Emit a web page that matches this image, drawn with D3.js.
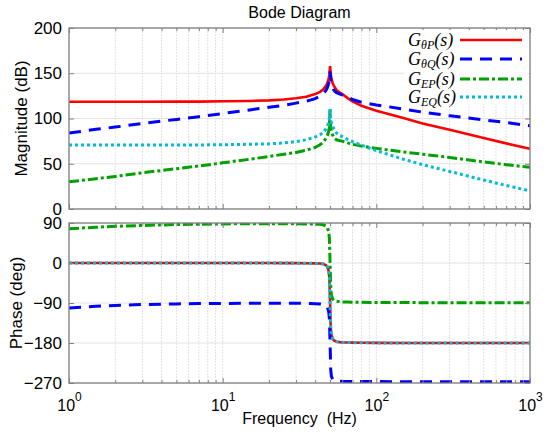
<!DOCTYPE html>
<html>
<head>
<meta charset="utf-8">
<script src="https://cdn.jsdelivr.net/npm/d3@7"></script>
<style>
  body { margin: 0; background: #fff; }
  svg { display: block; }
  text { fill: #000; }
</style>
</head>
<body>
<div id="chart"></div>
<script>
// frequency points (Hz), shared by all traces
const freq = [1, 1.5, 2, 3, 5, 7, 10, 15, 20, 25, 30, 35, 40, 43, 45, 47, 48, 49, 49.5, 50,
  50.5, 51, 52, 53, 55, 58, 60, 65, 70, 80, 100, 150, 200, 300, 500, 700, 1000];

// magnitude (dB)
const magThetaP = [118.5, 118.5, 118.5, 118.5, 118.6, 118.7, 119, 119.4, 120, 121, 122.3, 124, 127, 129.5, 132, 136, 139, 144, 149, 158,
  149, 144, 139, 136, 131.5, 128.5, 127, 122.5, 119, 114, 108.5, 100.5, 94.5, 87.5, 78.5, 72.5, 66.5];
const magThetaQ = [84, 88, 90.5, 94.5, 99, 102, 105.5, 109.5, 112.5, 114.5, 117, 119, 122, 124.5, 127, 131, 134, 139, 144, 152,
  144, 139, 134, 131, 128.5, 127, 126, 123.5, 121, 118, 115, 110.5, 107, 103, 98.5, 95.5, 92];
const magEP = [30, 33.5, 36, 40, 44.5, 47.5, 51, 55, 58, 60.5, 62.5, 65, 68, 71, 73.5, 78, 81, 86, 91, 110,
  91, 86, 81.5, 78.5, 76.5, 75.5, 75, 73, 71.5, 69.5, 67, 63, 60.5, 57, 52, 49, 46];
const magEQ = [70.7, 70.7, 70.7, 70.7, 70.7, 70.8, 71, 71.5, 72, 73, 74.5, 76.5, 79.5, 82, 84.5, 88.5, 91.5, 96, 100, 111,
  100, 96, 91.5, 88, 84, 81, 80, 77, 74.5, 70.5, 64.5, 55, 49, 41.5, 32, 26, 20];

// phase (deg)
const phaseThetaP = [0, 0, 0, 0, 0, 0, 0, 0, 0, -0.2, -0.3, -0.5, -0.8, -1.2, -2, -5, -8, -18, -35, -90,
  -145, -162, -171, -174, -177, -178, -178.5, -179, -179.2, -179.5, -179.7, -180, -180, -180, -180, -180, -180];
const phaseThetaQ = [-101, -97.5, -95.5, -93.5, -92, -91.3, -91, -90.5, -90.5, -90.5, -90.5, -91, -91.5, -92, -93, -96, -99, -110, -125, -180,
  -240, -255, -262, -264, -265.5, -266, -266.3, -266.5, -266.6, -266.7, -266.8, -267, -267, -267, -267, -267, -267];
const phaseEP = [77, 80.5, 82.5, 84.5, 86.5, 87.3, 88, 88.5, 88.5, 88.5, 88.3, 88, 87.5, 87, 86, 83, 80, 70, 55, 0,
  -55, -72, -81, -84, -86, -87, -87.5, -88, -88.3, -88.5, -88.7, -89, -89.2, -89.4, -89.5, -89.5, -89.5];
const phaseEQ = [0, 0, 0, 0, 0, 0, 0, 0, 0, -0.2, -0.3, -0.5, -0.8, -1.2, -2, -5, -8, -18, -35, -90,
  -145, -162, -171, -174, -177, -178, -178.5, -179, -179.2, -179.5, -179.7, -180, -180, -180, -180, -180, -180];

// legend subscripts, in drawing order
const seriesSub = ["θP", "θQ", "EP", "EQ"];
const magTicks = [0, 50, 100, 150, 200];
const phaseTicks = [-270, -180, -90, 0, 90];
const freqTicks = [1, 10, 100, 1000];

const width = 544;
const height = 432;
const left = 69, right = 530;
const magTop = 28, magBottom = 209;
const phTop = 223, phBottom = 383;
const sans = "'Liberation Sans', Arial, sans-serif";
const serif = "'Liberation Serif', 'Times New Roman', serif";

const styles = [
  { color: "#ff0000", dash: null, w: 2.6 },
  { color: "#0000ff", dash: "12,8", w: 3 },
  { color: "#00a000", dash: "10,3,3,3", w: 3 },
  { color: "#00bcd8", dash: "3,3", w: 3 }
];

const magSeries = [magThetaP, magThetaQ, magEP, magEQ];
const phaseSeries = [phaseThetaP, phaseThetaQ, phaseEP, phaseEQ];

const x = d3.scaleLog().domain([1, 1000]).range([left, right]);
const yMag = d3.scaleLinear().domain([0, 200]).range([magBottom, magTop]);
const yPh = d3.scaleLinear().domain([-270, 90]).range([phBottom, phTop]);

// minor log positions for ticks / grid
const minorFreqs = [];
for (let dec = 1; dec < 1000; dec *= 10) {
  for (let m = 2; m <= 9; m++) minorFreqs.push(dec * m);
}

const svg = d3.select("#chart").append("svg")
  .attr("width", width)
  .attr("height", height);

svg.append("text")
  .attr("x", (left + right) / 2)
  .attr("y", 18)
  .attr("text-anchor", "middle")
  .style("font-family", sans)
  .style("font-size", "16px")
  .text("Bode Diagram");

function panel(y, top, bottom, ticks, series, id, showX) {
  const g = svg.append("g");
  const defs = svg.append("defs");
  defs.append("clipPath").attr("id", id)
    .append("rect")
    .attr("x", left).attr("y", top)
    .attr("width", right - left).attr("height", bottom - top);

  // grid
  g.append("g").selectAll("line")
    .data(minorFreqs.concat(freqTicks))
    .join("line")
    .attr("x1", d => x(d)).attr("x2", d => x(d))
    .attr("y1", top).attr("y2", bottom)
    .attr("stroke", "#e2e2e2")
    .attr("stroke-dasharray", "2,1")
    .attr("stroke-width", 1);
  g.append("g").selectAll("line")
    .data(ticks)
    .join("line")
    .attr("x1", left).attr("x2", right)
    .attr("y1", d => y(d)).attr("y2", d => y(d))
    .attr("stroke", "#e4e4e4")
    .attr("stroke-width", 1);

  // traces
  const line = d3.line()
    .x((d, i) => x(freq[i]))
    .y(d => y(d));
  const traces = g.append("g").attr("clip-path", `url(#${id})`);
  series.forEach((vals, i) => {
    traces.append("path")
      .datum(vals)
      .attr("d", line)
      .attr("fill", "none")
      .attr("stroke", styles[i].color)
      .attr("stroke-width", styles[i].w)
      .attr("stroke-dasharray", styles[i].dash);
  });

  // ticks on all four sides
  const tickCol = "#808080";
  const yl = g.append("g").attr("transform", `translate(${left},0)`)
    .call(d3.axisLeft(y).tickValues(ticks).tickSize(-5).tickPadding(7));
  const yr = g.append("g").attr("transform", `translate(${right},0)`)
    .call(d3.axisRight(y).tickValues(ticks).tickSize(-5).tickFormat(""));
  const xt = g.append("g").attr("transform", `translate(0,${top})`)
    .call(d3.axisTop(x).tickValues(freqTicks).tickSize(-5).tickFormat(""));
  const xtm = g.append("g").attr("transform", `translate(0,${top})`)
    .call(d3.axisTop(x).tickValues(minorFreqs).tickSize(-3).tickFormat(""));
  const xb = g.append("g").attr("transform", `translate(0,${bottom})`)
    .call(d3.axisBottom(x).tickValues(freqTicks).tickSize(-5).tickPadding(12));
  const xbm = g.append("g").attr("transform", `translate(0,${bottom})`)
    .call(d3.axisBottom(x).tickValues(minorFreqs).tickSize(-3).tickFormat(""));
  [yl, yr, xt, xtm, xb, xbm].forEach(a => {
    a.select(".domain").remove();
    a.selectAll(".tick line").attr("stroke", tickCol);
  });
  yl.selectAll(".tick text")
    .style("font-family", sans)
    .style("font-size", "17px")
    .attr("fill", "#000");

  if (showX) {
    xb.selectAll(".tick text").each(function (d) {
      const t = d3.select(this)
        .text(null)
        .style("font-family", sans)
        .style("font-size", "16px")
        .attr("fill", "#000")
        .attr("dy", null)
        .attr("y", 28);
      t.append("tspan").text("10");
      t.append("tspan").attr("dy", -10).style("font-size", "12px").text(Math.round(Math.log10(d)));
    });
  } else {
    xb.selectAll(".tick text").remove();
  }

  // box
  g.append("rect")
    .attr("x", left).attr("y", top)
    .attr("width", right - left).attr("height", bottom - top)
    .attr("fill", "none")
    .attr("stroke", tickCol)
    .attr("stroke-width", 1.3);
  return g;
}

const magPanel = panel(yMag, magTop, magBottom, magTicks, magSeries, "clipMag", false);
panel(yPh, phTop, phBottom, phaseTicks, phaseSeries, "clipPh", true);

// legend
const leg = magPanel.append("g");
leg.append("rect")
  .attr("x", 404).attr("y", 30)
  .attr("width", 125).attr("height", 74)
  .attr("fill", "#fff");
const legRows = [40, 59, 79, 97];
seriesSub.forEach((sub, i) => {
  const yy = legRows[i];
  const t = leg.append("text")
    .attr("x", 408).attr("y", yy + 6)
    .style("font-family", serif)
    .style("font-style", "italic")
    .style("font-size", "18px");
  t.append("tspan").text("G");
  t.append("tspan").style("font-size", "12px").attr("dy", 3).text(sub);
  t.append("tspan").attr("dy", -3).text("(s)");
  leg.append("line")
    .attr("x1", 460).attr("x2", 522)
    .attr("y1", yy).attr("y2", yy)
    .attr("stroke", styles[i].color)
    .attr("stroke-width", styles[i].w)
    .attr("stroke-dasharray", styles[i].dash);
});

// axis labels
svg.append("text")
  .attr("transform", `translate(27,${(magTop + magBottom) / 2}) rotate(-90)`)
  .attr("text-anchor", "middle")
  .style("font-family", sans)
  .style("font-size", "17px")
  .text("Magnitude (dB)");
svg.append("text")
  .attr("transform", `translate(22,${(phTop + phBottom) / 2}) rotate(-90)`)
  .attr("text-anchor", "middle")
  .style("font-family", sans)
  .style("font-size", "17px")
  .text("Phase (deg)");
svg.append("text")
  .attr("x", (left + right) / 2)
  .attr("y", 424)
  .attr("text-anchor", "middle")
  .style("font-family", sans)
  .style("font-size", "16px")
  .style("white-space", "pre")
  .text("Frequency  (Hz)");
</script>
</body>
</html>
